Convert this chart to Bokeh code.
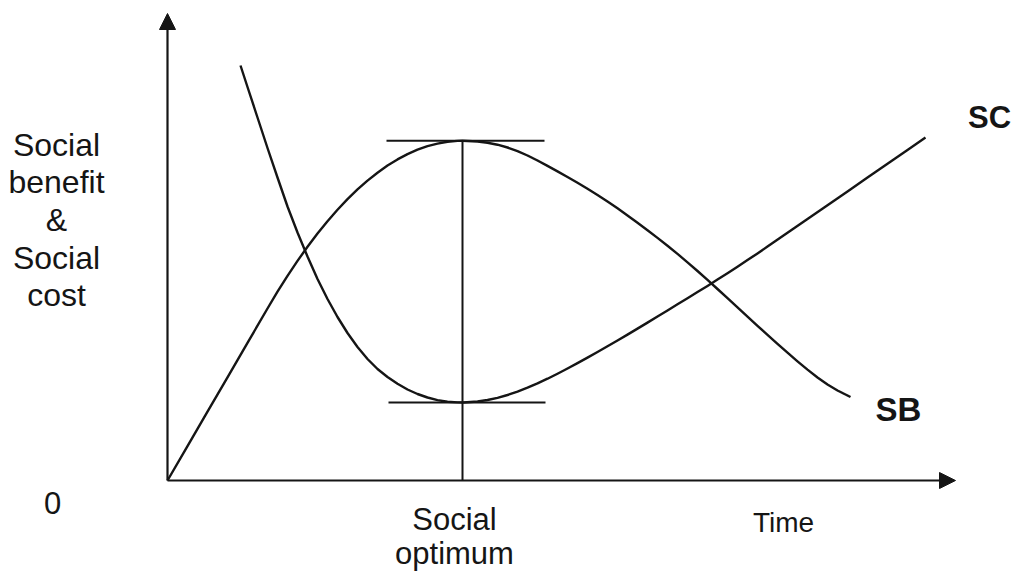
from bokeh.plotting import figure
from bokeh.models import Range1d, Arrow, NormalHead
from bokeh.core.properties import value
from bokeh.embed import file_html
from bokeh.resources import INLINE

# ---- data (x = time, y = social benefit / cost) ----
sb_x = [0, 2, 4, 6, 8, 10, 11, 12, 13, 14, 15, 16, 17, 18, 19, 20, 21, 22, 23, 24,
        25, 26, 27, 28, 29, 29.5, 31, 32, 33, 34, 35, 36, 37, 38, 39, 40, 41, 42,
        43, 44, 45, 46, 47, 48, 49, 50, 51, 52, 53, 54, 55, 56, 57, 58, 59, 60,
        61, 62, 63, 64, 65, 66, 67, 68, 68.3]
sb_y = [0, 3.44, 6.88, 10.32, 13.76, 17.2, 18.88, 20.46, 21.96, 23.37, 24.7, 25.93,
        27.08, 28.14, 29.11, 29.99, 30.78, 31.49, 32.11, 32.64, 33.08, 33.43, 33.69,
        33.87, 33.96, 33.97, 33.9, 33.78, 33.58, 33.3, 32.94, 32.5, 32.0, 31.46,
        30.91, 30.35, 29.77, 29.17, 28.55, 27.9, 27.22, 26.51, 25.78, 25.03, 24.26,
        23.47, 22.66, 21.82, 20.95, 20.06, 19.15, 18.23, 17.31, 16.39, 15.47, 14.56,
        13.66, 12.78, 11.92, 11.09, 10.3, 9.6, 9.0, 8.5, 8.35]

sc_x = [7.3, 8, 9, 10, 11, 12, 13, 14, 15, 16, 17, 18, 19, 20, 21, 22, 23, 24, 25,
        26, 27, 28, 29, 29.6, 31, 32, 33, 34, 35, 36, 37, 38, 39, 40, 41, 42, 43,
        44, 45, 46, 47, 48, 49, 50, 51, 52, 53, 54, 55, 56, 57, 58, 59, 60, 62,
        64, 66, 68, 70, 72, 74, 75.8]
sc_y = [41.5, 39.35, 36.3, 33.25, 30.3, 27.4, 24.8, 22.4, 20.15, 18.15, 16.35, 14.75,
        13.35, 12.15, 11.15, 10.35, 9.67, 9.1, 8.65, 8.3, 8.04, 7.88, 7.81, 7.8,
        7.9, 8.05, 8.27, 8.55, 8.89, 9.28, 9.71, 10.18, 10.68, 11.2, 11.74, 12.29,
        12.85, 13.42, 14.0, 14.59, 15.19, 15.79, 16.4, 17.01, 17.62, 18.23, 18.84,
        19.46, 20.09, 20.73, 21.38, 22.04, 22.71, 23.39, 24.77, 26.15, 27.53,
        28.91, 30.29, 31.67, 33.05, 34.3]

y_label_lines = ["Social", "benefit", "&", "Social", "cost"]
x_label = "Time"
origin_label = "0"
optimum_lines = ["Social", "optimum"]
sb_name = "SB"
sc_name = "SC"

# ---- figure ----
INK = "#151515"
FONT = value("Liberation Sans")

p = figure(width=1015, height=573, output_backend="svg", toolbar_location=None,
           x_range=Range1d(-16.7, 84.8), y_range=Range1d(-9.3, 48.0),
           min_border=0, background_fill_color="white", border_fill_color="white")
p.axis.visible = False
p.grid.visible = False
p.outline_line_color = None

# axes with arrow heads
p.add_layout(Arrow(end=NormalHead(size=16, fill_color=INK, line_color=INK, line_width=1),
                   x_start=0, y_start=0, x_end=0, y_end=46.7,
                   line_color=INK, line_width=2.2))
p.add_layout(Arrow(end=NormalHead(size=16, fill_color=INK, line_color=INK, line_width=1),
                   x_start=0, y_start=0, x_end=78.8, y_end=0,
                   line_color=INK, line_width=2.2))

# curves
p.line(sb_x, sb_y, line_color=INK, line_width=2.4, line_join="round")
p.line(sc_x, sc_y, line_color=INK, line_width=2.4, line_join="round")

# social optimum markers
opt_i = sb_y.index(max(sb_y))
opt_x = sb_x[opt_i]
sb_max = sb_y[opt_i]
sc_min = min(sc_y)
p.segment(x0=[opt_x - 7.6, opt_x - 7.4], x1=[opt_x + 8.2, opt_x + 8.3],
          y0=[sb_max, sc_min], y1=[sb_max, sc_min], line_color=INK, line_width=2)
p.segment(x0=[opt_x], x1=[opt_x], y0=[0], y1=[sb_max], line_color=INK, line_width=2)

# y-axis label (stacked lines)
ys = [33.6, 29.9, 26.1, 22.3, 18.6]
p.text(x=[-11.1] * len(y_label_lines), y=ys, text=y_label_lines,
       text_align="center", text_baseline="alphabetic", text_color=INK,
       text_font=FONT, text_font_size=value("32px"))

# origin
p.text(x=[-11.5], y=[-2.2], text=[origin_label], text_align="center",
       text_baseline="alphabetic", text_color=INK, text_font=FONT,
       text_font_size=value("31px"))

# social optimum label
p.text(x=[opt_x - 0.8] * 2, y=[-3.9, -7.3], text=optimum_lines, text_align="center",
       text_baseline="alphabetic", text_color=INK, text_font=FONT,
       text_font_size=value("31px"))

# time label
p.text(x=[61.6], y=[-4.2], text=[x_label], text_align="center",
       text_baseline="alphabetic", text_color=INK, text_font=FONT,
       text_font_size=value("28px"))

# curve names
p.text(x=[82.2], y=[36.3], text=[sc_name], text_align="center",
       text_baseline="alphabetic", text_color=INK, text_font=FONT,
       text_font_style="bold", text_font_size=value("31px"))
p.text(x=[73.1], y=[7.1], text=[sb_name], text_align="center",
       text_baseline="alphabetic", text_color=INK, text_font=FONT,
       text_font_style="bold", text_font_size=value("33px"))

open("out.html", "w").write(file_html(p, INLINE))
